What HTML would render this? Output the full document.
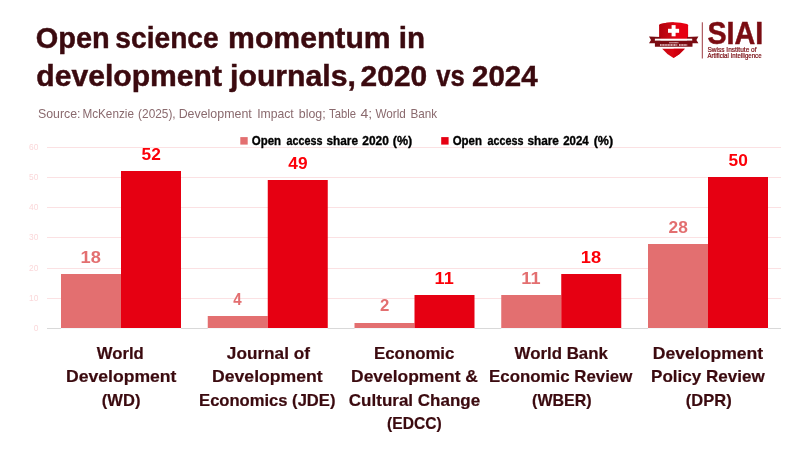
<!DOCTYPE html>
<html lang="en"><head><meta charset="utf-8"><title>Open science momentum in development journals, 2020 vs 2024</title>
<style>
html,body{margin:0;padding:0;background:#fff;}
body{width:800px;height:450px;overflow:hidden;}
svg{display:block;font-family:"Liberation Sans",sans-serif;}
.b{font-weight:bold;}
</style></head><body>
<svg width="800" height="450" viewBox="0 0 800 450">
<rect width="800" height="450" fill="#fff"/>
<text x="35.74" y="48.10" font-size="29.5" fill="#3b0a0f" stroke="#3b0a0f" stroke-width="0.45" class="b" textLength="74.03" lengthAdjust="spacingAndGlyphs">Open</text>
<text x="115.37" y="48.10" font-size="29.5" fill="#3b0a0f" stroke="#3b0a0f" stroke-width="0.45" class="b" textLength="103.29" lengthAdjust="spacingAndGlyphs">science</text>
<text x="228.10" y="48.10" font-size="29.5" fill="#3b0a0f" stroke="#3b0a0f" stroke-width="0.45" class="b" textLength="162.53" lengthAdjust="spacingAndGlyphs">momentum</text>
<text x="398.82" y="48.10" font-size="29.5" fill="#3b0a0f" stroke="#3b0a0f" stroke-width="0.45" class="b" textLength="26.28" lengthAdjust="spacingAndGlyphs">in</text>
<text x="36.30" y="85.80" font-size="29.5" fill="#3b0a0f" stroke="#3b0a0f" stroke-width="0.45" class="b" textLength="185.69" lengthAdjust="spacingAndGlyphs">development</text>
<text x="230.12" y="85.80" font-size="29.5" fill="#3b0a0f" stroke="#3b0a0f" stroke-width="0.45" class="b" textLength="125.78" lengthAdjust="spacingAndGlyphs">journals,</text>
<text x="360.61" y="85.80" font-size="29.5" fill="#3b0a0f" stroke="#3b0a0f" stroke-width="0.45" class="b" textLength="66.58" lengthAdjust="spacingAndGlyphs">2020</text>
<text x="436.33" y="85.80" font-size="29.5" fill="#3b0a0f" stroke="#3b0a0f" stroke-width="0.45" class="b" textLength="28.50" lengthAdjust="spacingAndGlyphs">vs</text>
<text x="472.02" y="85.80" font-size="29.5" fill="#3b0a0f" stroke="#3b0a0f" stroke-width="0.45" class="b" textLength="65.66" lengthAdjust="spacingAndGlyphs">2024</text>
<text x="37.90" y="117.60" font-size="13.1" fill="#8a6a6e" textLength="42.60" lengthAdjust="spacingAndGlyphs">Source:</text>
<text x="82.40" y="117.60" font-size="13.1" fill="#8a6a6e" textLength="51.55" lengthAdjust="spacingAndGlyphs">McKenzie</text>
<text x="138.10" y="117.60" font-size="13.1" fill="#8a6a6e" textLength="37.58" lengthAdjust="spacingAndGlyphs">(2025),</text>
<text x="178.65" y="117.60" font-size="13.1" fill="#8a6a6e" textLength="73.10" lengthAdjust="spacingAndGlyphs">Development</text>
<text x="257.17" y="117.60" font-size="13.1" fill="#8a6a6e" textLength="36.59" lengthAdjust="spacingAndGlyphs">Impact</text>
<text x="298.80" y="117.60" font-size="13.1" fill="#8a6a6e" textLength="26.80" lengthAdjust="spacingAndGlyphs">blog;</text>
<text x="329.00" y="117.60" font-size="13.1" fill="#8a6a6e" textLength="26.94" lengthAdjust="spacingAndGlyphs">Table</text>
<text x="360.50" y="117.60" font-size="13.1" fill="#8a6a6e" textLength="11.68" lengthAdjust="spacingAndGlyphs">4;</text>
<text x="375.40" y="117.60" font-size="13.1" fill="#8a6a6e" textLength="30.45" lengthAdjust="spacingAndGlyphs">World</text>
<text x="410.51" y="117.60" font-size="13.1" fill="#8a6a6e" textLength="26.69" lengthAdjust="spacingAndGlyphs">Bank</text>
<rect x="47" y="328.00" width="734" height="1" fill="#d9d9d9"/>
<text x="38.4" y="331.10" font-size="8.4" fill="#fbd8da" text-anchor="end">0</text>
<rect x="47" y="298.00" width="734" height="1" fill="#fbe1e3"/>
<text x="38.4" y="301.10" font-size="8.4" fill="#fbd8da" text-anchor="end">10</text>
<rect x="47" y="268.00" width="734" height="1" fill="#fbe1e3"/>
<text x="38.4" y="271.10" font-size="8.4" fill="#fbd8da" text-anchor="end">20</text>
<rect x="47" y="237.00" width="734" height="1" fill="#fbe1e3"/>
<text x="38.4" y="240.10" font-size="8.4" fill="#fbd8da" text-anchor="end">30</text>
<rect x="47" y="207.00" width="734" height="1" fill="#fbe1e3"/>
<text x="38.4" y="210.10" font-size="8.4" fill="#fbd8da" text-anchor="end">40</text>
<rect x="47" y="177.00" width="734" height="1" fill="#fbe1e3"/>
<text x="38.4" y="180.10" font-size="8.4" fill="#fbd8da" text-anchor="end">50</text>
<rect x="47" y="147.00" width="734" height="1" fill="#fbe1e3"/>
<text x="38.4" y="150.10" font-size="8.4" fill="#fbd8da" text-anchor="end">60</text>
<rect x="61.00" y="274.00" width="60" height="54.00" fill="#e36f70"/>
<rect x="121.00" y="171.00" width="60" height="157.00" fill="#e60012"/>
<rect x="61.00" y="328" width="120" height="1" fill="#f3f7f9"/>
<text x="80.50" y="263.00" font-size="16.6" fill="#e36f70" class="b" textLength="20.35" lengthAdjust="spacingAndGlyphs">18</text>
<text x="141.60" y="160.00" font-size="16.6" fill="#fc0008" class="b" textLength="19.24" lengthAdjust="spacingAndGlyphs">52</text>
<rect x="207.75" y="316.00" width="60" height="12.00" fill="#e36f70"/>
<rect x="267.75" y="180.00" width="60" height="148.00" fill="#e60012"/>
<rect x="207.75" y="328" width="120" height="1" fill="#f3f7f9"/>
<text x="233.30" y="305.00" font-size="16.6" fill="#e36f70" class="b" textLength="8.40" lengthAdjust="spacingAndGlyphs">4</text>
<text x="288.35" y="169.00" font-size="16.6" fill="#fc0008" class="b" textLength="19.24" lengthAdjust="spacingAndGlyphs">49</text>
<rect x="354.50" y="323.00" width="60" height="5.00" fill="#e36f70"/>
<rect x="414.50" y="295.00" width="60" height="33.00" fill="#e60012"/>
<rect x="354.50" y="328" width="120" height="1" fill="#f3f7f9"/>
<text x="380.05" y="311.00" font-size="16.6" fill="#e36f70" class="b" textLength="9.33" lengthAdjust="spacingAndGlyphs">2</text>
<text x="434.61" y="284.00" font-size="16.6" fill="#fc0008" class="b" textLength="19.14" lengthAdjust="spacingAndGlyphs">11</text>
<rect x="501.25" y="295.00" width="60" height="33.00" fill="#e36f70"/>
<rect x="561.25" y="274.00" width="60" height="54.00" fill="#e60012"/>
<rect x="501.25" y="328" width="120" height="1" fill="#f3f7f9"/>
<text x="521.36" y="284.00" font-size="16.6" fill="#e36f70" class="b" textLength="19.14" lengthAdjust="spacingAndGlyphs">11</text>
<text x="580.75" y="263.00" font-size="16.6" fill="#fc0008" class="b" textLength="20.35" lengthAdjust="spacingAndGlyphs">18</text>
<rect x="648.00" y="244.00" width="60" height="84.00" fill="#e36f70"/>
<rect x="708.00" y="177.00" width="60" height="151.00" fill="#e60012"/>
<rect x="648.00" y="328" width="120" height="1" fill="#f3f7f9"/>
<text x="668.60" y="233.00" font-size="16.6" fill="#e36f70" class="b" textLength="19.24" lengthAdjust="spacingAndGlyphs">28</text>
<text x="728.60" y="166.00" font-size="16.6" fill="#fc0008" class="b" textLength="19.24" lengthAdjust="spacingAndGlyphs">50</text>
<rect x="240.30" y="137.1" width="7.4" height="7.5" fill="#e36f70"/>
<text x="251.78" y="144.60" font-size="12.8" fill="#000" stroke="#000" stroke-width="0.35" class="b" textLength="29.24" lengthAdjust="spacingAndGlyphs">Open</text>
<text x="286.53" y="144.60" font-size="12.8" fill="#000" stroke="#000" stroke-width="0.35" class="b" textLength="36.00" lengthAdjust="spacingAndGlyphs">access</text>
<text x="326.53" y="144.60" font-size="12.8" fill="#000" stroke="#000" stroke-width="0.35" class="b" textLength="31.51" lengthAdjust="spacingAndGlyphs">share</text>
<text x="362.28" y="144.60" font-size="12.8" fill="#000" stroke="#000" stroke-width="0.35" class="b" textLength="26.51" lengthAdjust="spacingAndGlyphs">2020</text>
<text x="392.78" y="144.60" font-size="12.8" fill="#000" stroke="#000" stroke-width="0.35" class="b" textLength="19.40" lengthAdjust="spacingAndGlyphs">(%)</text>
<rect x="441.20" y="137.1" width="7.4" height="7.5" fill="#e60012"/>
<text x="452.68" y="144.60" font-size="12.8" fill="#000" stroke="#000" stroke-width="0.35" class="b" textLength="29.24" lengthAdjust="spacingAndGlyphs">Open</text>
<text x="487.43" y="144.60" font-size="12.8" fill="#000" stroke="#000" stroke-width="0.35" class="b" textLength="36.00" lengthAdjust="spacingAndGlyphs">access</text>
<text x="527.42" y="144.60" font-size="12.8" fill="#000" stroke="#000" stroke-width="0.35" class="b" textLength="31.51" lengthAdjust="spacingAndGlyphs">share</text>
<text x="563.17" y="144.60" font-size="12.8" fill="#000" stroke="#000" stroke-width="0.35" class="b" textLength="25.61" lengthAdjust="spacingAndGlyphs">2024</text>
<text x="593.67" y="144.60" font-size="12.8" fill="#000" stroke="#000" stroke-width="0.35" class="b" textLength="19.40" lengthAdjust="spacingAndGlyphs">(%)</text>
<text x="96.85" y="358.70" font-size="16.6" fill="#3b0a0f" stroke="#3b0a0f" stroke-width="0.2" class="b" textLength="46.94" lengthAdjust="spacingAndGlyphs">World</text>
<text x="66.04" y="382.10" font-size="16.6" fill="#3b0a0f" stroke="#3b0a0f" stroke-width="0.2" class="b" textLength="110.36" lengthAdjust="spacingAndGlyphs">Development</text>
<text x="101.85" y="405.50" font-size="16.6" fill="#3b0a0f" stroke="#3b0a0f" stroke-width="0.2" class="b" textLength="38.57" lengthAdjust="spacingAndGlyphs">(WD)</text>
<text x="226.85" y="358.70" font-size="16.6" fill="#3b0a0f" stroke="#3b0a0f" stroke-width="0.2" class="b" textLength="83.06" lengthAdjust="spacingAndGlyphs">Journal of</text>
<text x="212.04" y="382.10" font-size="16.6" fill="#3b0a0f" stroke="#3b0a0f" stroke-width="0.2" class="b" textLength="110.61" lengthAdjust="spacingAndGlyphs">Development</text>
<text x="199.10" y="405.50" font-size="16.6" fill="#3b0a0f" stroke="#3b0a0f" stroke-width="0.2" class="b" textLength="136.32" lengthAdjust="spacingAndGlyphs">Economics (JDE)</text>
<text x="374.09" y="358.70" font-size="16.6" fill="#3b0a0f" stroke="#3b0a0f" stroke-width="0.2" class="b" textLength="80.29" lengthAdjust="spacingAndGlyphs">Economic</text>
<text x="351.05" y="382.10" font-size="16.6" fill="#3b0a0f" stroke="#3b0a0f" stroke-width="0.2" class="b" textLength="126.83" lengthAdjust="spacingAndGlyphs">Development &amp;</text>
<text x="348.85" y="405.50" font-size="16.6" fill="#3b0a0f" stroke="#3b0a0f" stroke-width="0.2" class="b" textLength="131.28" lengthAdjust="spacingAndGlyphs">Cultural Change</text>
<text x="387.10" y="428.90" font-size="16.6" fill="#3b0a0f" stroke="#3b0a0f" stroke-width="0.2" class="b" textLength="54.54" lengthAdjust="spacingAndGlyphs">(EDCC)</text>
<text x="514.60" y="358.70" font-size="16.6" fill="#3b0a0f" stroke="#3b0a0f" stroke-width="0.2" class="b" textLength="93.27" lengthAdjust="spacingAndGlyphs">World Bank</text>
<text x="489.08" y="382.10" font-size="16.6" fill="#3b0a0f" stroke="#3b0a0f" stroke-width="0.2" class="b" textLength="143.22" lengthAdjust="spacingAndGlyphs">Economic Review</text>
<text x="532.10" y="405.50" font-size="16.6" fill="#3b0a0f" stroke="#3b0a0f" stroke-width="0.2" class="b" textLength="59.56" lengthAdjust="spacingAndGlyphs">(WBER)</text>
<text x="652.79" y="358.70" font-size="16.6" fill="#3b0a0f" stroke="#3b0a0f" stroke-width="0.2" class="b" textLength="110.36" lengthAdjust="spacingAndGlyphs">Development</text>
<text x="651.07" y="382.10" font-size="16.6" fill="#3b0a0f" stroke="#3b0a0f" stroke-width="0.2" class="b" textLength="113.73" lengthAdjust="spacingAndGlyphs">Policy Review</text>
<text x="685.85" y="405.50" font-size="16.6" fill="#3b0a0f" stroke="#3b0a0f" stroke-width="0.2" class="b" textLength="45.82" lengthAdjust="spacingAndGlyphs">(DPR)</text>
<g>
<defs><linearGradient id="gl" x1="0" y1="0" x2="1" y2="0"><stop offset="0" stop-color="#b2000c"/><stop offset="1" stop-color="#d00a16"/></linearGradient><linearGradient id="gb" x1="0" y1="0" x2="1" y2="0"><stop offset="0" stop-color="#c80a14"/><stop offset="1" stop-color="#f00010"/></linearGradient><linearGradient id="gr" x1="0" y1="0" x2="1" y2="0"><stop offset="0" stop-color="#d8000f"/><stop offset="1" stop-color="#b8000c"/></linearGradient></defs>
<path d="M659.3 40 L659.3 25.2 Q659.4 24.4 660.4 24 Q666.5 22.2 673.7 22.2 Q681 22.2 687 24 Q688 24.4 688.1 25.2 L688.1 40 Z" fill="#e60012"/>
<path d="M659.3 40 L659.3 25.2 Q659.4 24.4 660.4 24 Q666.5 22.2 673.7 22.2 L673.7 40 Z" fill="url(#gl)"/>
<path d="M662.2 48.7 L684.8 48.7 Q680.6 54 673.5 58 Q666.4 54 662.2 48.7 Z" fill="url(#gb)"/>
<path d="M684.8 48.7 L673.7 48.7 L673.5 58 Q680.6 54 684.8 48.7 Z" fill="url(#gr)"/>
<rect x="671.6" y="25.1" width="4" height="11.2" fill="#fff"/>
<rect x="668" y="28.8" width="11.1" height="4" fill="#fff"/>
<path d="M649 36.4 L660.5 36.9 L660.5 43.3 L649 43.3 L651 39.9 Z" fill="#7a0c12"/>
<path d="M698.4 36.4 L687 36.9 L687 43.3 L698.4 43.3 L696.4 39.9 Z" fill="#7a0c12"/>
<rect x="654.9" y="38.7" width="37.3" height="2.1" fill="#fff"/>
<rect x="654.9" y="40.7" width="37.6" height="6.05" rx="0.6" fill="#7a0c12"/>
<path d="M669.3 42.7 H678.7" stroke="#f3d9db" stroke-width="1.15" stroke-dasharray="0.85 0.3" fill="none"/>
<path d="M660 45 H677.3 M679 45 H687.2" stroke="#f3d9db" stroke-width="1.7" stroke-dasharray="1.15 0.4" fill="none"/>
<rect x="701.8" y="22.3" width="1" height="36.2" fill="#9c3a40"/>
<text x="707.45" y="43.80" font-size="31.7" fill="#7a0c12" stroke="#7a0c12" stroke-width="0.5" class="b" textLength="55.83" lengthAdjust="spacingAndGlyphs">SIAI</text>
<text x="707.41" y="52.30" font-size="7.2" fill="#7a0c12" stroke="#7a0c12" stroke-width="0.22" textLength="49.18" lengthAdjust="spacingAndGlyphs">Swiss Institute of</text>
<text x="707.41" y="58.40" font-size="7.2" fill="#7a0c12" stroke="#7a0c12" stroke-width="0.22" textLength="54.18" lengthAdjust="spacingAndGlyphs">Artificial Intelligence</text>
</g>
</svg></body></html>
